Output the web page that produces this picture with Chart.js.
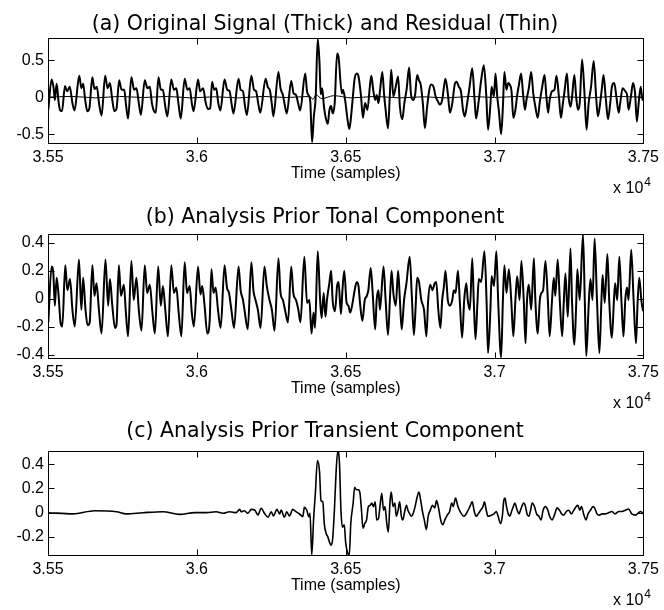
<!DOCTYPE html>
<html>
<head>
<meta charset="utf-8">
<title>Signal decomposition</title>
<script src="https://cdn.jsdelivr.net/npm/chart.js@4.4.1/dist/chart.umd.min.js"></script>
<style>
  html, body { margin: 0; padding: 0; background: #fff; }
  .page { position: relative; width: 664px; height: 610px; overflow: hidden; }
  .panel { position: absolute; left: 0; width: 664px; }
</style>
</head>
<body>
<div class="page">
  <div class="panel" style="top:0;height:200px"><canvas id="chartA"></canvas></div>
  <div class="panel" style="top:200px;height:210px"><canvas id="chartB"></canvas></div>
  <div class="panel" style="top:410px;height:200px"><canvas id="chartC"></canvas></div>
</div>
<script>
'use strict';

// =========================================================
// DATA  (time in samples, amplitude)
// =========================================================

const xTicks = [35500, 36000, 36500, 37000, 37500];
const xTickLabels = ['3.55', '3.6', '3.65', '3.7', '3.75'];

const yTicksA = [-0.5, 0, 0.5];
const yTicksB = [-0.4, -0.2, 0, 0.2, 0.4];
const yTicksC = [-0.2, 0, 0.2, 0.4];

const originalSignal = [
    [35501,-0.17],[35512,0.24],[35519,0.12],[35523,-0.04],[35529,0.18],[35536,-0.08],[35541,-0.18],[35547,-0.19],
    [35557,0.15],[35564,0.08],[35573,0.14],[35582,-0.08],[35589,-0.18],[35605,0.29],[35612,0.12],[35618,0.18],
    [35625,-0.04],[35632,-0.19],[35639,-0.15],[35649,0.27],[35656,0.11],[35664,0.14],[35672,-0.10],[35680,-0.25],
    [35692,0.29],[35700,0.12],[35708,0.19],[35716,-0.04],[35723,-0.19],[35730,-0.16],[35739,0.23],[35747,0.10],
    [35756,0.10],[35762,-0.10],[35769,-0.29],[35780,0.27],[35789,0.10],[35797,0.12],[35805,-0.08],[35812,-0.24],
    [35825,0.23],[35834,0.12],[35842,0.14],[35849,-0.08],[35855,-0.18],[35862,-0.21],[35871,0.27],[35879,0.10],
    [35886,0.10],[35893,-0.10],[35901,-0.26],[35914,0.24],[35923,0.10],[35931,0.12],[35938,-0.08],[35946,-0.29],
    [35959,0.25],[35968,0.10],[35976,0.12],[35983,-0.08],[35989,-0.19],[36004,0.24],[36011,0.08],[36021,0.12],
    [36030,-0.08],[36037,-0.16],[36045,-0.15],[36051,0.21],[36058,0.10],[36065,0.12],[36072,-0.08],[36079,-0.18],
    [36093,0.24],[36102,0.10],[36110,0.08],[36117,-0.10],[36123,-0.22],[36140,0.25],[36147,0.10],[36155,0.08],
    [36161,-0.10],[36168,-0.24],[36183,0.29],[36192,0.10],[36199,0.08],[36206,-0.08],[36213,-0.21],[36231,0.25],
    [36238,0.14],[36246,0.08],[36252,-0.10],[36257,-0.26],[36274,0.34],[36281,0.12],[36289,0.03],[36295,-0.10],
    [36302,-0.22],[36317,0.22],[36325,0.05],[36333,0.03],[36340,-0.08],[36347,-0.18],[36364,0.32],[36370,0.08],
    [36376,0.02],[36381,-0.06],[36387,-0.61],[36393,-0.26],[36399,-0.01],[36406,0.79],[36412,0.46],[36416,0.04],
    [36421,0.12],[36427,-0.13],[36434,-0.30],[36440,-0.36],[36445,-0.18],[36451,-0.12],[36456,-0.22],[36463,-0.08],
    [36471,0.59],[36476,0.54],[36487,0.05],[36491,0.10],[36498,-0.04],[36506,-0.30],[36512,-0.43],[36517,-0.30],
    [36523,-0.04],[36530,0.25],[36537,0.32],[36543,0.28],[36551,0.03],[36558,-0.28],[36565,-0.08],[36573,-0.17],
    [36581,0.14],[36586,0.29],[36593,0.08],[36599,-0.04],[36604,0.03],[36610,-0.08],[36615,0.08],[36623,0.34],
    [36629,0.03],[36634,-0.17],[36642,-0.42],[36648,0.01],[36653,0.37],[36660,0.01],[36668,0.14],[36676,0.28],
    [36682,-0.13],[36690,-0.30],[36697,-0.08],[36705,0.12],[36713,0.40],[36719,0.05],[36726,-0.04],[36733,0.03],
    [36740,0.30],[36746,0.23],[36752,0.17],[36759,-0.08],[36766,-0.42],[36773,-0.15],[36780,0.08],[36787,0.17],
    [36795,0.14],[36802,0.01],[36810,-0.06],[36816,-0.10],[36824,-0.04],[36830,0.14],[36835,0.25],[36843,0.05],
    [36850,-0.21],[36858,-0.08],[36866,0.17],[36872,0.21],[36880,0.14],[36887,0.08],[36894,-0.17],[36900,-0.26],
    [36908,-0.08],[36916,0.14],[36925,0.39],[36933,-0.04],[36938,-0.29],[36947,-0.04],[36955,0.23],[36964,0.43],
    [36972,0.03],[36978,-0.44],[36986,-0.10],[36990,0.14],[36998,0.01],[37003,0.32],[37009,0.01],[37015,-0.21],
    [37022,-0.50],[37028,-0.13],[37033,0.34],[37040,0.10],[37046,0.19],[37051,0.17],[37057,0.08],[37063,-0.28],
    [37070,-0.17],[37076,0.03],[37082,0.17],[37089,0.32],[37096,0.03],[37102,-0.17],[37107,-0.04],[37115,0.12],
    [37123,0.34],[37130,0.05],[37137,-0.13],[37145,-0.28],[37152,-0.06],[37160,0.14],[37168,0.30],[37174,0.01],
    [37180,-0.21],[37185,-0.04],[37193,0.08],[37201,0.10],[37208,0.29],[37216,0.01],[37223,-0.28],[37229,-0.10],
    [37235,0.08],[37243,0.32],[37249,-0.01],[37255,-0.13],[37260,-0.01],[37268,0.30],[37274,0.01],[37280,-0.17],
    [37286,-0.08],[37294,0.51],[37302,0.05],[37309,-0.44],[37316,-0.08],[37324,0.14],[37333,0.49],[37341,0.01],
    [37347,-0.26],[37353,-0.13],[37361,0.14],[37366,0.30],[37374,-0.04],[37381,-0.30],[37389,-0.06],[37394,0.14],
    [37402,0.19],[37409,0.01],[37417,-0.21],[37422,-0.08],[37430,0.12],[37439,0.08],[37445,0.03],[37450,-0.17],
    [37458,0.01],[37465,0.19],[37472,0.05],[37478,-0.33],[37484,-0.08],[37491,0.14],[37497,-0.04],[37500,0.01]
];

const residualSignal = [
    [35500,0.00],[35580,0.01],[35660,-0.01],[35740,0.01],[35820,-0.005],[35900,0.01],[35980,-0.01],[36060,0.005],
    [36140,-0.01],[36220,0.01],[36300,-0.005],[36380,0.01],[36390,-0.03],[36400,0.03],[36420,-0.02],[36460,0.02],
    [36520,-0.01],[36600,0.01],[36680,-0.01],[36760,0.005],[36840,-0.01],[36920,0.01],[37000,-0.005],[37080,0.01],
    [37160,-0.01],[37240,0.005],[37320,-0.01],[37400,0.01],[37500,0.00]
];

const tonalComponent = [
    [35501,-0.17],[35512,0.23],[35518,0.18],[35523,-0.05],[35529,0.15],[35535,0.04],[35542,-0.17],[35548,-0.20],
    [35558,0.24],[35565,0.06],[35574,0.14],[35582,-0.08],[35590,-0.20],[35604,0.28],[35612,-0.08],[35618,0.15],
    [35626,-0.08],[35633,-0.19],[35640,-0.17],[35649,0.24],[35656,0.02],[35663,0.11],[35671,-0.08],[35680,-0.25],
    [35693,0.28],[35702,-0.05],[35708,0.14],[35716,-0.05],[35725,-0.21],[35730,-0.19],[35738,0.24],[35745,0.02],
    [35755,0.10],[35761,-0.08],[35769,-0.27],[35780,0.27],[35788,-0.01],[35797,0.15],[35805,-0.08],[35814,-0.23],
    [35825,0.24],[35833,0.04],[35842,0.10],[35850,-0.08],[35859,-0.25],[35870,0.23],[35879,-0.05],[35886,0.09],
    [35894,-0.08],[35903,-0.27],[35914,0.24],[35923,0.04],[35931,0.08],[35939,-0.10],[35948,-0.27],[35959,0.26],
    [35967,0.04],[35976,0.09],[35983,-0.10],[35990,-0.20],[36004,0.23],[36012,0.03],[36018,0.09],[36026,-0.05],
    [36035,-0.25],[36043,-0.16],[36049,0.21],[36056,0.04],[36063,0.08],[36071,-0.08],[36080,-0.21],[36093,0.24],
    [36101,0.08],[36108,0.04],[36116,-0.08],[36125,-0.21],[36140,0.23],[36147,0.06],[36155,-0.01],[36160,-0.08],
    [36171,-0.22],[36183,0.26],[36190,0.06],[36197,-0.01],[36205,-0.08],[36214,-0.21],[36227,0.23],[36235,0.09],
    [36244,-0.01],[36252,-0.08],[36261,-0.23],[36274,0.29],[36281,0.04],[36289,-0.01],[36297,-0.09],[36306,-0.17],
    [36317,0.23],[36324,0.04],[36333,-0.01],[36341,-0.08],[36348,-0.17],[36361,0.30],[36370,-0.03],[36378,-0.01],
    [36385,-0.25],[36392,-0.10],[36397,-0.21],[36406,0.34],[36414,-0.01],[36419,-0.14],[36426,0.04],[36432,-0.13],
    [36437,-0.01],[36445,0.11],[36451,0.20],[36456,-0.01],[36464,-0.09],[36471,0.09],[36476,0.12],[36484,-0.11],
    [36489,0.06],[36495,0.20],[36503,-0.03],[36509,-0.05],[36515,-0.10],[36523,-0.03],[36530,0.06],[36537,0.12],
    [36543,0.09],[36548,-0.03],[36556,-0.16],[36564,-0.01],[36571,0.02],[36576,0.06],[36584,0.22],[36590,0.06],
    [36599,-0.22],[36604,-0.01],[36610,0.06],[36615,-0.08],[36627,0.23],[36634,-0.01],[36642,-0.26],[36649,0.02],
    [36654,0.20],[36660,0.04],[36668,-0.05],[36676,0.20],[36682,-0.01],[36688,-0.22],[36696,-0.01],[36704,0.11],
    [36715,0.30],[36722,0.02],[36729,-0.26],[36735,-0.05],[36740,0.15],[36746,0.12],[36754,-0.01],[36763,-0.08],
    [36771,-0.27],[36777,-0.01],[36784,0.10],[36791,0.06],[36799,0.11],[36804,0.12],[36811,-0.08],[36818,-0.21],
    [36824,-0.01],[36830,0.09],[36835,0.20],[36843,-0.01],[36850,-0.05],[36858,-0.01],[36863,0.06],[36869,0.04],
    [36877,0.20],[36883,-0.01],[36891,-0.28],[36898,-0.01],[36905,0.11],[36910,-0.01],[36917,-0.08],[36925,0.29],
    [36930,-0.01],[36936,-0.29],[36942,-0.05],[36947,0.14],[36955,0.12],[36966,0.34],[36973,-0.01],[36978,-0.39],
    [36986,-0.08],[36990,0.16],[36998,0.09],[37006,0.34],[37012,-0.01],[37022,-0.42],[37028,-0.01],[37033,0.24],
    [37040,0.04],[37048,0.21],[37056,-0.01],[37063,-0.27],[37070,-0.01],[37076,0.16],[37084,-0.01],[37090,0.27],
    [37098,-0.01],[37104,-0.32],[37109,-0.01],[37115,0.10],[37123,-0.08],[37132,0.29],[37137,-0.01],[37145,-0.25],
    [37152,-0.01],[37157,0.04],[37163,0.06],[37171,0.27],[37179,-0.01],[37185,-0.27],[37193,-0.01],[37199,0.15],
    [37204,0.02],[37212,0.28],[37219,-0.01],[37227,-0.27],[37232,-0.05],[37238,0.18],[37246,-0.13],[37255,0.36],
    [37260,-0.01],[37268,-0.33],[37274,-0.05],[37278,0.21],[37286,-0.01],[37297,0.46],[37303,-0.01],[37308,-0.41],
    [37316,-0.05],[37322,0.14],[37329,-0.01],[37336,0.43],[37344,-0.01],[37352,-0.39],[37359,-0.01],[37363,0.17],
    [37370,-0.03],[37379,0.32],[37385,-0.01],[37394,-0.28],[37401,-0.01],[37405,0.11],[37412,-0.01],[37419,0.30],
    [37426,-0.01],[37433,-0.27],[37439,-0.01],[37445,0.08],[37450,-0.01],[37459,0.35],[37467,-0.01],[37475,-0.32],
    [37480,-0.05],[37486,0.15],[37493,-0.01],[37498,-0.08],[37500,-0.09]
];

const transientComponent = [
    [35500,0.000],[35584,-0.010],[35657,0.016],[35730,0.008],[35763,-0.010],[35819,0.000],[35886,0.008],[35942,-0.014],
    [35993,0.000],[36032,0.000],[36065,0.008],[36088,-0.005],[36110,0.008],[36132,0.000],[36144,0.027],[36149,0.008],
    [36160,0.016],[36171,-0.005],[36183,0.027],[36194,0.022],[36205,-0.019],[36216,0.036],[36227,-0.005],[36239,-0.038],
    [36250,0.008],[36257,-0.027],[36269,0.027],[36278,-0.011],[36283,0.022],[36294,-0.038],[36302,0.008],[36311,-0.027],
    [36322,0.027],[36333,0.008],[36345,-0.011],[36356,-0.033],[36361,0.044],[36369,0.022],[36376,-0.033],[36380,-0.005],
    [36386,-0.35],[36392,-0.06],[36398,0.16],[36405,0.43],[36412,0.34],[36417,0.10],[36423,0.09],[36428,-0.09],
    [36434,-0.17],[36440,-0.20],[36445,-0.24],[36451,-0.27],[36456,-0.22],[36462,0.02],[36467,0.30],[36473,0.51],
    [36479,0.41],[36484,0.02],[36489,-0.12],[36495,-0.10],[36500,-0.25],[36506,-0.33],[36512,-0.35],[36517,-0.09],
    [36525,0.08],[36530,0.21],[36536,0.19],[36543,0.19],[36548,0.16],[36553,0.02],[36558,-0.13],[36564,-0.09],
    [36570,-0.06],[36576,0.05],[36582,0.06],[36587,0.08],[36593,0.05],[36599,0.09],[36604,-0.06],[36610,-0.05],
    [36615,0.05],[36621,0.16],[36627,0.02],[36632,0.05],[36638,-0.09],[36643,-0.16],[36649,0.10],[36653,0.17],
    [36659,0.05],[36665,0.08],[36670,-0.03],[36676,0.02],[36681,0.09],[36687,-0.03],[36692,-0.06],[36698,0.01],
    [36704,0.06],[36709,0.02],[36715,-0.01],[36720,-0.03],[36726,-0.01],[36733,0.05],[36740,0.13],[36746,0.17],
    [36752,0.10],[36757,0.02],[36764,-0.06],[36771,-0.14],[36777,-0.03],[36784,0.02],[36791,0.06],[36799,0.04],
    [36805,0.10],[36811,0.05],[36819,-0.06],[36826,-0.10],[36833,-0.06],[36841,-0.02],[36849,0.01],[36856,0.08],
    [36861,0.05],[36869,0.12],[36876,0.06],[36882,0.02],[36889,-0.01],[36897,-0.03],[36902,-0.02],[36909,0.01],
    [36917,0.05],[36925,0.09],[36931,0.02],[36938,-0.03],[36945,-0.01],[36953,0.02],[36961,0.05],[36966,0.09],
    [36972,0.02],[36978,-0.03],[36990,-0.02],[36998,-0.01],[37006,0.01],[37012,-0.03],[37020,-0.09],[37026,-0.03],
    [37031,0.10],[37035,0.12],[37040,0.05],[37046,-0.01],[37051,-0.03],[37057,0.01],[37063,0.05],[37068,0.08],
    [37076,0.02],[37082,-0.01],[37087,0.02],[37093,0.06],[37098,0.08],[37104,0.05],[37109,-0.01],[37115,-0.03],
    [37121,0.02],[37126,0.08],[37134,0.05],[37141,-0.01],[37149,-0.03],[37156,-0.06],[37163,0.02],[37171,0.05],
    [37179,0.02],[37185,-0.03],[37193,-0.06],[37201,-0.02],[37210,0.04],[37218,0.02],[37225,-0.01],[37232,-0.02],
    [37241,0.01],[37249,0.02],[37258,-0.01],[37266,0.02],[37274,0.05],[37280,0.06],[37286,0.02],[37292,0.05],
    [37299,-0.01],[37307,-0.06],[37314,-0.01],[37322,0.02],[37330,0.05],[37336,0.04],[37344,-0.01],[37352,-0.02],
    [37361,-0.01],[37372,-0.01],[37383,0.00],[37394,0.01],[37405,-0.01],[37417,0.01],[37428,0.01],[37439,0.02],
    [37450,0.03],[37461,-0.01],[37473,-0.02],[37484,0.00],[37491,0.01],[37500,-0.01]
];


// =========================================================
// AXES LOOK: box, inward ticks, title, x label, exponent
// =========================================================

const TICK_FONT = '16px "Liberation Sans", Arial, sans-serif';
const TITLE_FONT = '20.5px "DejaVu Sans", sans-serif';
const TITLE_X = 325;

const matlabAxes = {
    id: 'matlabAxes',

    afterDatasetsDraw(chart, args, opts) {
        const { ctx, chartArea: area, scales } = chart;
        const left = Math.round(area.left) + 0.5;
        const right = Math.round(area.right) + 0.5;
        const top = Math.round(area.top) + 0.5;
        const bottom = Math.round(area.bottom) + 0.5;

        ctx.save();
        ctx.strokeStyle = '#000';
        ctx.lineWidth = 1;
        ctx.strokeRect(left, top, right - left, bottom - top);

        ctx.beginPath();
        scales.x.ticks.forEach((tick) => {
            const x = Math.round(scales.x.getPixelForValue(tick.value)) + 0.5;
            ctx.moveTo(x, bottom);
            ctx.lineTo(x, bottom - 6);
            ctx.moveTo(x, top);
            ctx.lineTo(x, top + 6);
        });
        scales.y.ticks.forEach((tick) => {
            const y = Math.round(scales.y.getPixelForValue(tick.value)) + 0.5;
            ctx.moveTo(left, y);
            ctx.lineTo(left + 6, y);
            ctx.moveTo(right, y);
            ctx.lineTo(right - 6, y);
        });
        ctx.stroke();

        ctx.fillStyle = '#000';
        ctx.textAlign = 'center';
        ctx.textBaseline = 'middle';

        // title above the box
        ctx.font = TITLE_FONT;
        ctx.fillText(opts.title, TITLE_X, area.top - opts.titleGap);

        // x label below the tick labels
        ctx.font = TICK_FONT;
        ctx.fillText('Time (samples)', (area.left + area.right) / 2, area.bottom + 31);

        // x 10^4 exponent at the right
        ctx.textAlign = 'right';
        ctx.font = '12px "Liberation Sans", Arial, sans-serif';
        ctx.fillText('4', 651, area.bottom + 40);
        const supWidth = ctx.measureText('4').width;
        ctx.font = TICK_FONT;
        ctx.fillText('x 10', 651 - supWidth - 1, area.bottom + 46);

        ctx.restore();
    },
};


// =========================================================
// CHART BUILDER
// =========================================================

const toPoints = (pairs) => pairs.map(([x, y]) => ({ x, y }));

const makeChart = (canvasId, panel) => {
    const canvas = document.querySelector(`#${canvasId}`);

    return new Chart(canvas, {
        type: 'line',
        data: {
            datasets: panel.series.map((s) => ({
                data: toPoints(s.data),
                borderColor: '#000',
                borderWidth: s.width,
                pointRadius: 0,
                cubicInterpolationMode: 'monotone',
                fill: false,
            })),
        },
        options: {
            responsive: true,
            maintainAspectRatio: false,
            animation: false,
            events: [],
            layout: {
                padding: { top: panel.padTop, right: 19, bottom: 0, left: 0 },
            },
            plugins: {
                legend: { display: false },
                tooltip: { enabled: false },
                matlabAxes: { title: panel.title, titleGap: panel.titleGap },
            },
            scales: {
                x: {
                    type: 'linear',
                    min: 35500,
                    max: 37500,
                    grid: { display: false, drawTicks: false },
                    border: { display: false },
                    afterBuildTicks: (scale) => {
                        scale.ticks = xTicks.map((value) => ({ value }));
                    },
                    afterFit: (scale) => {
                        scale.height = panel.xHeight;
                    },
                    ticks: {
                        padding: 5,
                        maxRotation: 0,
                        color: '#000',
                        font: { family: '"Liberation Sans", Arial, sans-serif', size: 16 },
                        callback: (value) => xTickLabels[xTicks.indexOf(value)],
                    },
                },
                y: {
                    type: 'linear',
                    min: panel.yMin,
                    max: panel.yMax,
                    grid: { display: false, drawTicks: false },
                    border: { display: false },
                    afterBuildTicks: (scale) => {
                        scale.ticks = panel.yTicks.map((value) => ({ value }));
                    },
                    afterFit: (scale) => {
                        scale.width = 48;
                    },
                    ticks: {
                        padding: 4,
                        color: '#000',
                        font: { family: '"Liberation Sans", Arial, sans-serif', size: 16 },
                        callback: (value) => String(value),
                    },
                },
            },
        },
        plugins: [matlabAxes],
    });
};


// =========================================================
// INIT
// =========================================================

const init = () => {
    makeChart('chartA', {
        title: '(a) Original Signal (Thick) and Residual (Thin)',
        titleGap: 13,
        padTop: 38,
        xHeight: 57,
        yMin: -0.62,
        yMax: 0.8,
        yTicks: yTicksA,
        series: [
            { data: originalSignal, width: 2 },
            { data: residualSignal, width: 1 },
        ],
    });

    makeChart('chartB', {
        title: '(b) Analysis Prior Tonal Component',
        titleGap: 16,
        padTop: 34,
        xHeight: 52,
        yMin: -0.425,
        yMax: 0.463,
        yTicks: yTicksB,
        series: [{ data: tonalComponent, width: 2 }],
    });

    makeChart('chartC', {
        title: '(c) Analysis Prior Transient Component',
        titleGap: 19,
        padTop: 41,
        xHeight: 55,
        yMin: -0.35,
        yMax: 0.51,
        yTicks: yTicksC,
        series: [{ data: transientComponent, width: 1.6 }],
    });
};

document.addEventListener('DOMContentLoaded', init);
</script>
</body>
</html>
